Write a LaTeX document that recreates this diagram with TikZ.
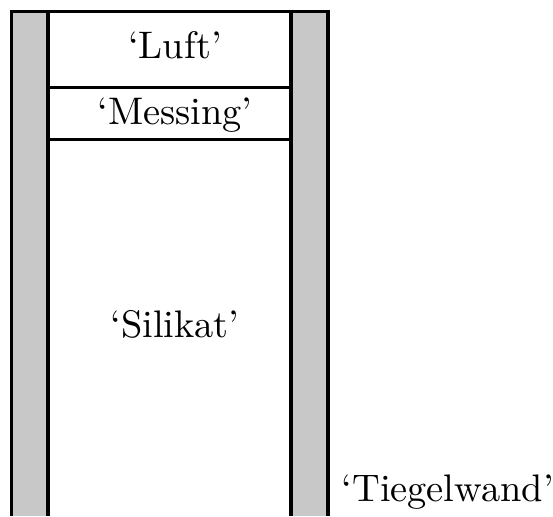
\documentclass[tikz,border=0pt]{standalone}
\usepackage{tikz}
\usetikzlibrary{positioning}
\definecolor{wallgray}{RGB}{200,200,200}

\begin{document}
\begin{tikzpicture}[x=0.25pt,y=-0.25pt,line width=0.8pt]
    \tikzset{
        wall/.style={fill=wallgray, draw=none},
        layerlabel/.style={inner sep=0pt, anchor=base, font=\fontsize{9.6}{12}\selectfont}
    }
    \useasboundingbox (0,0) rectangle (553,516);
    % crucible wall
    \fill[wall] (11.5,11.5) rectangle (48,516);
    \fill[wall] (291,11.5) rectangle (328,516);
    \draw (11.5,516) -- (11.5,11.5) -- (328,11.5) -- (328,516);
    \draw (48,11.5) -- (48,516);
    \draw (291,11.5) -- (291,516);
    % layers
    \draw (48,87.5) -- (291,87.5);
    \draw (48,139.5) -- (291,139.5);
    \node[layerlabel] (luft) at (175,58) {`Luft'};
    \node[layerlabel] (messing) at (175,124.5) {`Messing'};
    \node[layerlabel] (silikat) at (175,337) {`Silikat'};
    \node[layerlabel, anchor=base west] (wand) at (340,501) {`Tiegelwand'};
\end{tikzpicture}
\end{document}
